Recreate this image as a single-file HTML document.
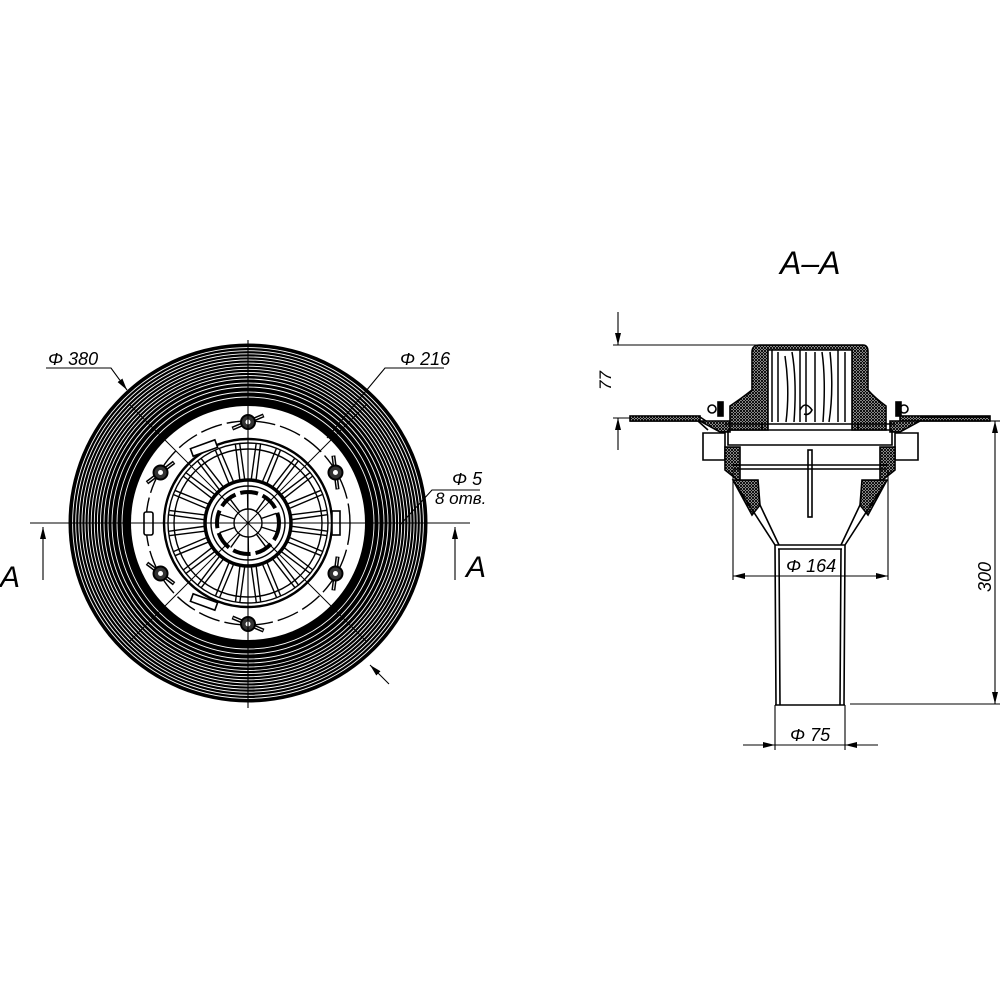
<!DOCTYPE html>
<html><head><meta charset="utf-8"><style>
html,body{margin:0;padding:0;background:#fff;}
svg{display:block;}
text{font-family:"Liberation Sans",sans-serif;font-style:italic;fill:#000;}
</style></head><body>
<svg id="s" width="1000" height="1000" viewBox="0 0 1000 1000" xmlns="http://www.w3.org/2000/svg">
<defs>
<pattern id="h" width="3" height="3" patternUnits="userSpaceOnUse">
<rect width="3" height="3" fill="#fff"/>
<path d="M0 0L3 3M3 0L0 3" stroke="#000" stroke-width="1"/>
</pattern>
<marker id="ar" viewBox="0 0 12 6" refX="12" refY="3" markerWidth="12" markerHeight="6" orient="auto" markerUnits="userSpaceOnUse">
<path d="M0 0L12 3L0 6z" fill="#000"/></marker>
</defs>
<g id="left"></g>
<g id="right" fill="none" stroke="#000" stroke-width="1.6">
<path d="M630 417 L700 417 L712 425 L725 430 M630 421 L698 421 L708 430" />
<rect x="630" y="416" width="70" height="5" fill="url(#h)"/>
<rect x="900" y="416" width="90" height="5" fill="url(#h)"/>
<path d="M920 417 L990 417 M918 421 L990 421"/>
<path d="M700 421 L720 432 L730 432 L730 421 Z" fill="url(#h)"/>
<path d="M920 421 L900 432 L890 432 L890 421 Z" fill="url(#h)"/>
<path d="M760 345 L863 345 Q868 345 868 352 L868 390 Q875 398 886 406 L886 430 L852 430 L852 350 L768 350 L768 430 L730 430 L730 406 Q742 398 752 390 L752 352 Q752 345 760 345 Z" fill="url(#h)"/>
<g stroke-width="1.5">
<path d="M772 350V422M778 352V422M785 356Q790 390 786 422M792 352Q797 380 794 422M800 350V422M806 352V422M815 352V422M822 352Q826 380 823 422M830 352Q834 390 829 422M838 350V422M845 352V422"/>
</g>
<path d="M800 410q5 -10 12 0q-3 6 -8 4" />
<rect x="718" y="402" width="5" height="14" fill="#000"/>
<circle cx="712" cy="409" r="4"/>
<rect x="896" y="402" width="5" height="14" fill="#000"/>
<circle cx="904" cy="409" r="4"/>
<path d="M725 424 L895 424 M728 430 L892 430 L892 445 L728 445 Z"/>
<path d="M762 422 V430 M858 422 V430"/>
<path d="M703 433 H725 V460 H703 Z M895 433 H918 V460 H895 Z"/>
<path d="M725 447 L740 447 L740 482 L725 470 Z" fill="url(#h)"/>
<path d="M895 447 L880 447 L880 482 L895 470 Z" fill="url(#h)"/>
<path d="M733 465 H887 M733 469 H887"/>
<path d="M733 480 L758 480 L760 505 L752 515 Z" fill="url(#h)"/>
<path d="M887 480 L862 480 L860 505 L868 515 Z" fill="url(#h)"/>
<path d="M733 480 L775 545 M887 480 L845 545 M760 505 L779 545 M860 505 L841 545"/>
<rect x="808" y="450" width="4" height="67"/>
<path d="M775 545 H845 M778 549 H842"/>
<path d="M775 545 L776 705 M779 549 L780 705 M845 545 L844 705 M841 549 L840 705"/>
<path d="M775 705 H845"/>
</g>
<g stroke="#000" stroke-width="1.1" fill="none">
<line x1="613" y1="345" x2="760" y2="345"/>
<line x1="613" y1="418" x2="630" y2="418"/>
<line x1="618" y1="312" x2="618" y2="345" marker-end="url(#ar)"/>
<line x1="618" y1="450" x2="618" y2="418" marker-end="url(#ar)"/>
<line x1="733" y1="470" x2="733" y2="580"/>
<line x1="888" y1="470" x2="888" y2="580"/>
<line x1="810" y1="576" x2="733" y2="576" marker-end="url(#ar)"/>
<line x1="810" y1="576" x2="888" y2="576" marker-end="url(#ar)"/>
<line x1="775" y1="705" x2="775" y2="750"/>
<line x1="845" y1="705" x2="845" y2="750"/>
<line x1="743" y1="745" x2="775" y2="745" marker-end="url(#ar)"/>
<line x1="878" y1="745" x2="845" y2="745" marker-end="url(#ar)"/>
<line x1="775" y1="745" x2="845" y2="745"/>
<line x1="990" y1="421" x2="1000" y2="421"/>
<line x1="850" y1="704" x2="1000" y2="704"/>
<line x1="995" y1="560" x2="995" y2="421" marker-end="url(#ar)"/>
<line x1="995" y1="560" x2="995" y2="704" marker-end="url(#ar)"/>
</g>
<text x="780" y="274" font-size="32">A–A</text>
<text x="611" y="390" font-size="17" transform="rotate(-90 611 390)">77</text>
<text x="786" y="572" font-size="18">Φ 164</text>
<text x="790" y="741" font-size="18">Φ 75</text>
<text x="991" y="592" font-size="18" transform="rotate(-90 991 592)">300</text>
<g stroke="#000" stroke-width="1.1" fill="none">
<path d="M46 368 H111 L127 390" marker-end="url(#ar)"/>
<path d="M444 368 H385 L327 438"/>
<path d="M480 490 H432 L400 525"/>
<path d="M389 684 L370 665" marker-end="url(#ar)"/>
<line x1="30" y1="523" x2="470" y2="523"/>
<line x1="248" y1="340" x2="248" y2="708"/>
<line x1="43" y1="580" x2="43" y2="527" marker-end="url(#ar)"/>
<line x1="455" y1="580" x2="455" y2="527" marker-end="url(#ar)"/>
</g>
<text x="48" y="365" font-size="18">Φ 380</text>
<text x="400" y="365" font-size="18">Φ 216</text>
<text x="452" y="485" font-size="18">Φ 5</text>
<text x="435" y="504" font-size="17">8 отв.</text>
<text x="0" y="587" font-size="30">A</text>
<text x="466" y="577" font-size="30">A</text>
</svg>
<script>
var g=document.getElementById('left'),cx=248,cy=523,h='';
h+='<circle cx="248" cy="523" r="179.5" fill="#000"/>';
var rs=[126,131,136,140,144];for(var r=147.5;r<=177;r+=3.1)rs.push(r);
rs.forEach(function(r){h+='<circle cx="248" cy="523" r="'+r.toFixed(1)+'" fill="none" stroke="#fff" stroke-width="0.9"/>';});
h+='<circle cx="248" cy="523" r="117" fill="#fff"/>';
h+='<g fill="none" stroke="#000" stroke-width="1.4">';
h+='<circle cx="248" cy="523" r="102" stroke-dasharray="22 5"/>';
h+='<circle cx="248" cy="523" r="84" stroke-width="2.4"/><circle cx="248" cy="523" r="80"/><circle cx="248" cy="523" r="74"/>';
h+='<circle cx="248" cy="523" r="43" stroke-width="3.5"/><circle cx="248" cy="523" r="37"/><circle cx="248" cy="523" r="14"/>';
h+='<circle cx="248" cy="523" r="31" stroke-width="4" stroke-dasharray="18 5"/>';
for(var i=0;i<24;i++){var a=i*Math.PI/12+0.13,p=0.055;
 h+='<path d="M'+(cx+44*Math.cos(a-p))+' '+(cy+44*Math.sin(a-p))+'L'+(cx+80*Math.cos(a-p/2))+' '+(cy+80*Math.sin(a-p/2))+'M'+(cx+44*Math.cos(a+p))+' '+(cy+44*Math.sin(a+p))+'L'+(cx+80*Math.cos(a+p/2))+' '+(cy+80*Math.sin(a+p/2))+'"/>';}
for(var i=0;i<10;i++){var a=i*Math.PI/5+0.3;h+='<line x1="'+(cx+14*Math.cos(a))+'" y1="'+(cy+14*Math.sin(a))+'" x2="'+(cx+30*Math.cos(a))+'" y2="'+(cy+30*Math.sin(a))+'"/>';}
h+='<line x1="130" y1="405" x2="366" y2="641" stroke-width="1"/><line x1="366" y1="405" x2="130" y2="641" stroke-width="1"/>';
h+='</g>';
var ang=[-90,-30,30,90,150,210];
for(var k=0;k<6;k++){var a=ang[k]*Math.PI/180,x=cx+101*Math.cos(a),y=cy+101*Math.sin(a),t=a+Math.PI/2+(k%2?0.4:-0.4);
 h+='<line x1="'+(x-17*Math.cos(t))+'" y1="'+(y-17*Math.sin(t))+'" x2="'+(x+17*Math.cos(t))+'" y2="'+(y+17*Math.sin(t))+'" stroke="#000" stroke-width="4"/><line x1="'+(x-16*Math.cos(t))+'" y1="'+(y-16*Math.sin(t))+'" x2="'+(x+16*Math.cos(t))+'" y2="'+(y+16*Math.sin(t))+'" stroke="#fff" stroke-width="1"/><circle cx="'+x+'" cy="'+y+'" r="7" fill="#333" stroke="#000" stroke-width="2"/><circle cx="'+x+'" cy="'+y+'" r="2.5" fill="#fff"/>';}
h+='<rect x="144" y="512" width="9" height="23" rx="2" fill="#fff" stroke="#000" stroke-width="1.6"/><rect x="332" y="511" width="8" height="24" fill="#fff" stroke="#000" stroke-width="1.6"/>';
h+='<rect x="191" y="444" width="26" height="8" fill="#fff" stroke="#000" stroke-width="1.6" transform="rotate(-20 204 448)"/><rect x="191" y="598" width="26" height="8" fill="#fff" stroke="#000" stroke-width="1.6" transform="rotate(20 204 602)"/>';
g.innerHTML=h;
</script>
</body></html>
